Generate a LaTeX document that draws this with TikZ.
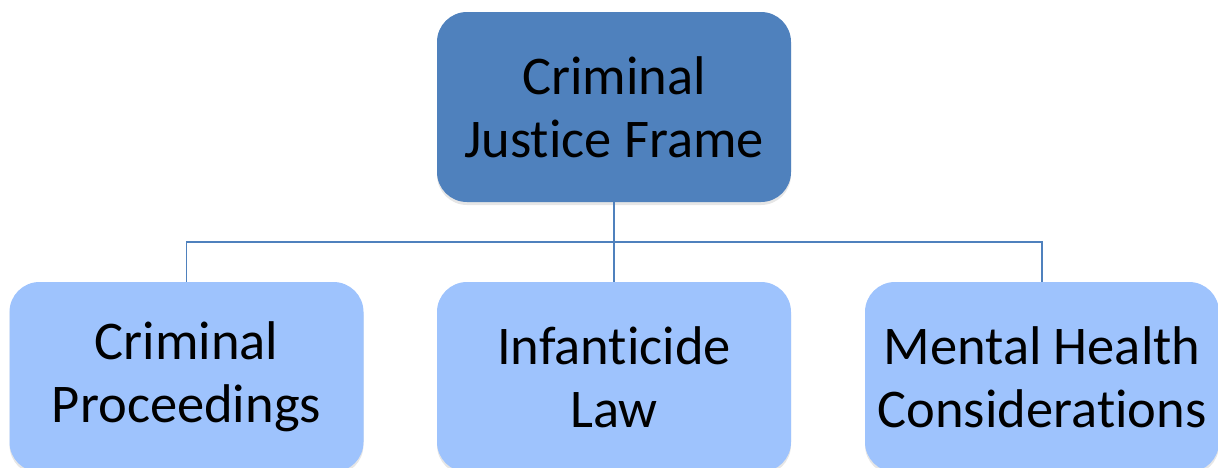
\documentclass[tikz,border=0pt]{standalone}
\usepackage{fontspec}
\setmainfont{Carlito}[Ligatures=NoCommon]
\usepackage{tikz}
\usetikzlibrary{positioning, calc, shadows}
\definecolor{cornice}{HTML}{4F81BD}
\definecolor{ramo}{HTML}{9EC3FD}
\tikzset{
    box/.style={rounded corners=30pt, minimum width=354pt, minimum height=190pt,
        inner sep=0pt, align=center, font=\fontsize{54.5}{63}\selectfont,
        drop shadow={opacity=0.2, shadow xshift=0pt, shadow yshift=-3pt}},
    link/.style={draw=cornice, line width=1.5pt}
}

\begin{document}
\begin{tikzpicture}[x=1pt, y=-1pt]
    % Area della figura (i riquadri in basso escono dal bordo)
    \useasboundingbox (0,0) rectangle (1218,467);
    \clip (0,0) rectangle (1218,467);

    % Riquadro principale
    \node[box, fill=cornice] (frame) at (614,107) {Criminal\\Justice Frame};

    % Riquadri figli
    \node[box, fill=ramo] (proc) at (186.5,377) {Criminal\\Proceedings};
    \node[box, fill=ramo] (law) at (614,377) {Infanticide\\Law};
    \node[box, fill=ramo] (mental) at (1042,377) {Mental Health\\Considerations};

    % Collegamenti
    \coordinate (bus) at ($(frame.south)+(0,40)$);
    \draw[link] (frame.south) -- (law.north);
    \draw[link] (bus) -| (proc.north);
    \draw[link] (bus) -| (mental.north);
\end{tikzpicture}
\end{document}
